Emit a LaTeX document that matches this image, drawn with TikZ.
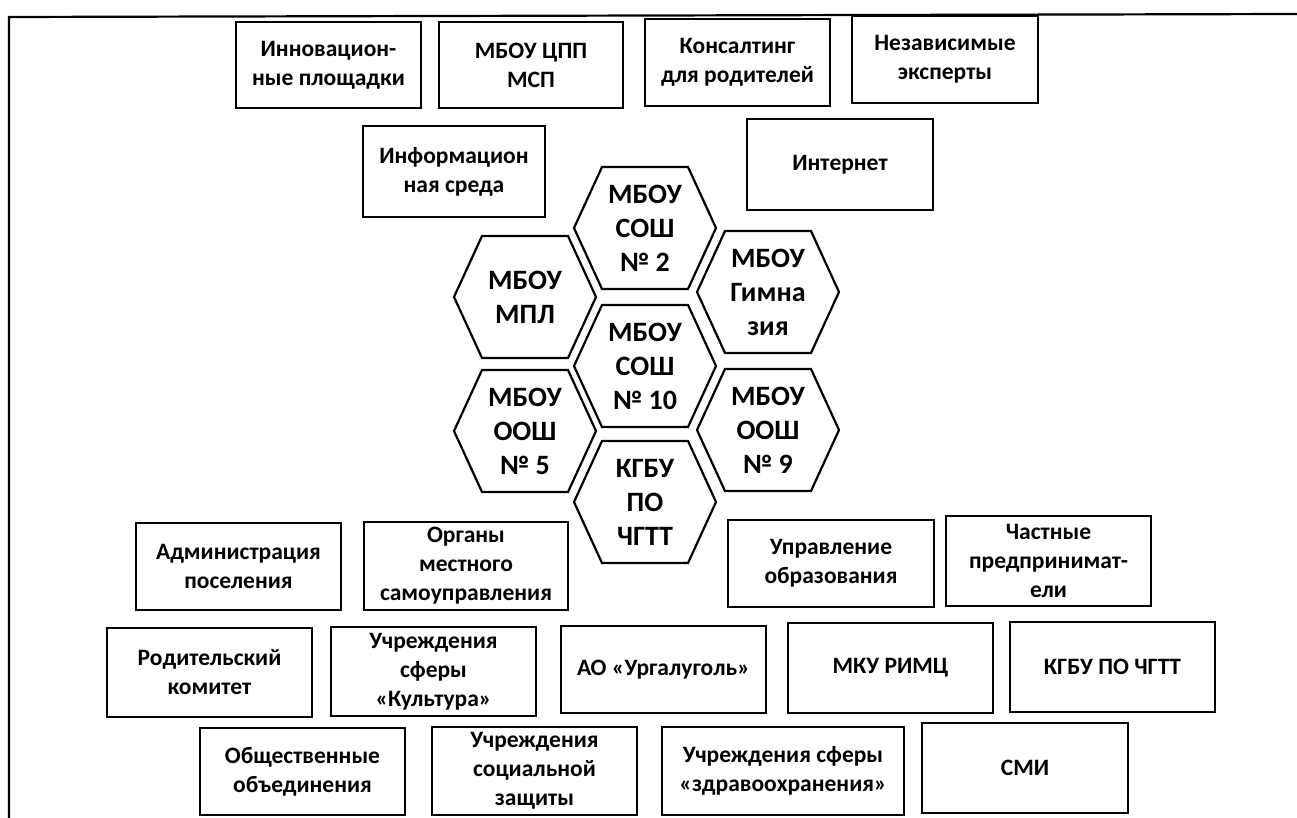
\documentclass[tikz,border=0pt]{standalone}
\usepackage{fontspec}
\setmainfont{Carlito}
\tikzset{
  box/.style={draw=black, line width=2.4pt, inner sep=0pt, align=center,
    font=\bfseries\fontsize{23.5}{29}\selectfont},
  hexline/.style={draw=black, line width=2.2pt, line join=miter},
  hextext/.style={inner sep=0pt, align=center, font=\bfseries\fontsize{28}{34}\selectfont},
  frame/.style={draw=black, line width=2.2pt}
}
\newcommand{\bx}[6]{%
  \node[box, minimum width={(#4-#2)*1pt}, minimum height={(#5-#3)*1pt}]
    (#1) at ({(#2+#4)/2},{(#3+#5)/2}) {#6};}
\newcommand{\hx}[4]{%
  \draw[hexline, shift={(#2,#3)}] (-71,0) -- (-43,-61) -- (43,-61) -- (71,0) -- (43,61) -- (-43,61) -- cycle;
  \node[hextext] (#1) at (#2,#3) {#4};}
\begin{document}
\begin{tikzpicture}[x=1pt,y=-1pt]
\useasboundingbox (0,0) rectangle (1297,818);
% frame
\coordinate (fb) at (9,818);
\coordinate (fc) at (9,17);
\coordinate (fr) at (1297,14);
\draw[frame] (fb) -- (fc) -- (fr);
% row 1
\bx{inn}{236}{22}{421}{108}{Инновацион-\\ные площадки}
\bx{cpp}{439}{22}{623}{108}{МБОУ ЦПП\\МСП}
\bx{kons}{645}{19}{830}{106}{Консалтинг\\для родителей}
\bx{nez}{852}{16}{1038}{103}{Независимые\\эксперты}
% row 2
\bx{inf}{363}{126}{545}{217}{Информацион\\ная среда}
\bx{int}{747}{119}{933}{210}{Интернет}
% hexagons
\hx{h2}{645}{228}{МБОУ\\СОШ\\№ 2}
\hx{hmpl}{525}{297}{МБОУ\\МПЛ}
\hx{hgym}{768}{292}{МБОУ\\Гимна\\зия}
\hx{h10}{645}{366}{МБОУ\\СОШ\\№ 10}
\hx{h5}{525}{431}{МБОУ\\ООШ\\№ 5}
\hx{h9}{768}{430}{МБОУ\\ООШ\\№ 9}
\hx{hk}{645}{502}{КГБУ\\ПО\\ЧГТТ}
% row 3
\bx{adm}{136}{523}{341}{610}{Администрация\\поселения}
\bx{org}{364}{522}{568}{610}{Органы\\местного\\самоуправления}
\bx{upr}{728}{520}{934}{607}{Управление\\образования}
\bx{chast}{946}{516}{1151}{606}{Частные\\предпринимат-\\ели}
% row 4
\bx{rod}{107}{628}{312}{717}{Родительский\\комитет}
\bx{kult}{331}{627}{536}{716}{Учреждения\\сферы\\«Культура»}
\bx{ao}{561}{626}{766}{713}{АО «Ургалуголь»}
\bx{mku}{788}{623}{993}{713}{МКУ РИМЦ}
\bx{kgbu}{1010}{622}{1215}{712}{КГБУ ПО ЧГТТ}
% row 5
\bx{obsh}{200}{728}{405}{815}{Общественные\\объединения}
\bx{soc}{432}{727}{637}{815}{Учреждения\\социальной\\защиты}
\bx{zdr}{662}{727}{904}{815}{Учреждения сферы\\«здравоохранения»}
\bx{smi}{922}{723}{1128}{813}{СМИ}
\end{tikzpicture}
\end{document}
